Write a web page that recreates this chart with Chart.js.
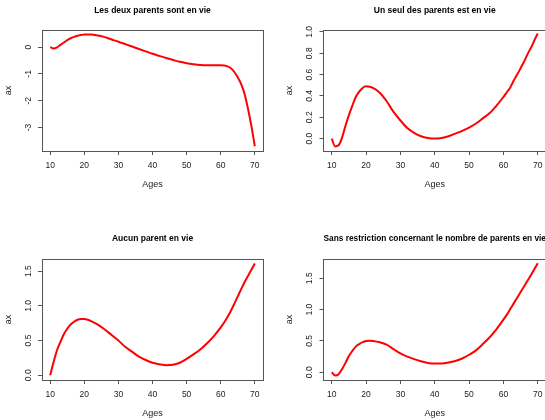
<!DOCTYPE html>
<html><head><meta charset="utf-8">
<script src="https://cdn.jsdelivr.net/npm/chart.js@4"></script>
<style>
html,body{margin:0;padding:0;background:#fff;overflow:hidden;width:545px;height:420px;position:relative;}
canvas{position:absolute;}
</style></head><body>
<canvas id="c1" width="272" height="210" style="left:0;top:0;width:272px;height:210px"></canvas>
<canvas id="c2" width="273" height="210" style="left:281px;top:0;width:273px;height:210px"></canvas>
<canvas id="c3" width="272" height="210" style="left:0;top:210px;width:272px;height:210px"></canvas>
<canvas id="c4" width="273" height="210" style="left:281px;top:210px;width:273px;height:210px"></canvas>
<script>
// ---- data ----
const ages = [10,11,12,13,14,15,16,17,18,19,20,21,22,24,26,28,30,32,34,36,38,40,42,44,46,48,50,52,54,56,58,60,61,62,63,64,65,66,67,68,69,70];
const axDeuxParents = [0.0,-0.05,-0.01,0.08,0.17,0.26,0.33,0.38,0.42,0.45,0.47,0.47,0.47,0.43,0.37,0.28,0.20,0.11,0.02,-0.07,-0.16,-0.25,-0.33,-0.41,-0.48,-0.55,-0.60,-0.64,-0.67,-0.68,-0.68,-0.68,-0.69,-0.72,-0.79,-0.93,-1.13,-1.38,-1.75,-2.3,-2.95,-3.7];
const axUnParent = [0.0,-0.073,-0.063,0.01,0.12,0.22,0.31,0.39,0.44,0.475,0.49,0.487,0.475,0.43,0.35,0.25,0.17,0.10,0.054,0.022,0.006,0.0,0.006,0.022,0.047,0.073,0.104,0.142,0.19,0.24,0.31,0.39,0.435,0.48,0.545,0.60,0.66,0.72,0.79,0.85,0.92,0.985];
const axAucunParent = [0.0,0.19,0.36,0.48,0.59,0.67,0.73,0.77,0.80,0.81,0.81,0.80,0.78,0.73,0.66,0.58,0.50,0.41,0.34,0.27,0.22,0.18,0.16,0.145,0.15,0.18,0.235,0.30,0.37,0.46,0.565,0.69,0.76,0.84,0.93,1.03,1.135,1.24,1.34,1.43,1.52,1.61];
const axSansRestriction = [0.0,-0.05,-0.03,0.05,0.15,0.26,0.34,0.41,0.45,0.48,0.50,0.505,0.50,0.48,0.44,0.37,0.30,0.25,0.21,0.175,0.15,0.14,0.14,0.155,0.18,0.22,0.28,0.35,0.45,0.56,0.69,0.84,0.92,1.01,1.10,1.19,1.28,1.37,1.46,1.55,1.645,1.74];

const ageTicks = [10,20,30,40,50,60,70];
const ageTickLabels = ['10','20','30','40','50','60','70'];
const yTicks1 = [-3,-2,-1,0];
const yLabels1 = ['-3','-2','-1','0'];
const yTicks2 = [0,0.2,0.4,0.6,0.8,1.0];
const yLabels2 = ['0.0','0.2','0.4','0.6','0.8','1.0'];
const yTicks3 = [0,0.5,1.0,1.5];
const yLabels3 = ['0.0','0.5','1.0','1.5'];
const yTicks4 = [0,0.5,1.0,1.5];
const yLabels4 = ['0.0','0.5','1.0','1.5'];
const titles = ['Les deux parents sont en vie','Un seul des parents est en vie','Aucun parent en vie','Sans restriction concernant le nombre de parents en vie'];
const xLabel = 'Ages';
const yLabel = 'ax';

// ---- drawing ----
const FONT = "'Liberation Sans', Arial, Helvetica, sans-serif";
const TICK_SIZE = 8.5, LAB_SIZE = 9, MAIN_SIZE = 8.5;
const measureCtx = document.createElement('canvas').getContext('2d');
function textWidth(t, size){ measureCtx.font = size + 'px ' + FONT; return measureCtx.measureText(t).width; }

const boxPlugin = {
  id: 'box',
  afterDatasetsDraw(chart){
    const {ctx, chartArea: a} = chart;
    ctx.save();
    ctx.strokeStyle = '#555';
    ctx.lineWidth = 1;
    const l = Math.floor(a.left) + 0.5, t = Math.floor(a.top) + 0.5;
    const r = Math.floor(a.right) + 0.5, b = Math.floor(a.bottom) + 0.5;
    ctx.strokeRect(l, t, r - l, b - t);
    ctx.restore();
  }
};

function panel(id, spec){
  const lhT = MAIN_SIZE * 1.2, lhL = LAB_SIZE * 1.2, lhK = TICK_SIZE * 1.2;
  const widest = Math.max(...spec.yLabels.map(t => textWidth(t, TICK_SIZE)));
  new Chart(document.getElementById(id), {
    type: 'line',
    data: { datasets: [{
      data: ages.map((a, i) => ({x: a, y: spec.values[i]})),
      borderColor: '#ff0000', borderWidth: 2, pointRadius: 0, fill: false,
      cubicInterpolationMode: 'monotone'
    }]},
    plugins: [boxPlugin],
    options: {
      responsive: false, animation: false, events: [],
      layout: { padding: { left: 0, right: spec.padRight, top: 0, bottom: 0 } },
      plugins: {
        legend: { display: false }, tooltip: { enabled: false },
        title: { display: true, text: spec.title, fullSize: false, align: 'center', color: '#000',
          font: { family: FONT, size: MAIN_SIZE, weight: 'bold' },
          padding: { top: spec.titleY - lhT / 2, bottom: spec.plotTop - spec.titleY - lhT / 2 } }
      },
      scales: {
        x: {
          type: 'linear', position: 'bottom', min: 7.6, max: 72.4,
          afterBuildTicks: s => { s.ticks = ageTicks.map(v => ({value: v})); },
          afterFit: s => { s.height = spec.xHeight; s.paddingLeft = 0; s.paddingRight = 0; },
          ticks: { autoSkip: false, minRotation: 0, maxRotation: 0, padding: 14.7 - 4 - lhK / 2,
            color: '#222', font: { family: FONT, size: TICK_SIZE }, callback: (v, i) => ageTickLabels[i] },
          grid: { drawOnChartArea: false, drawTicks: true, tickLength: 4, color: '#555' },
          border: { display: false },
          title: { display: true, text: xLabel, color: '#222', font: { family: FONT, size: LAB_SIZE },
            padding: { top: 0, bottom: spec.xHeight - 34 - lhL / 2 } }
        },
        y: {
          type: 'linear', position: 'left', min: spec.yMin, max: spec.yMax,
          afterBuildTicks: s => { s.ticks = spec.yTicks.map(v => ({value: v})); },
          afterFit: s => { s.width = spec.yWidth; s.paddingTop = 0; s.paddingBottom = 0; },
          ticks: { autoSkip: false, minRotation: 90, maxRotation: 90, crossAlign: 'center',
            padding: 13.5 - 4 - widest / 2,
            color: '#222', font: { family: FONT, size: TICK_SIZE }, callback: (v, i) => spec.yLabels[i] },
          grid: { drawOnChartArea: false, drawTicks: true, tickLength: 4, color: '#555' },
          border: { display: false },
          title: { display: true, text: yLabel, color: '#222', font: { family: FONT, size: LAB_SIZE },
            padding: { top: spec.yWidth - 33.5 - lhL / 2, bottom: 0 } }
        }
      }
    }
  });
}

panel('c1', { title: titles[0], values: axDeuxParents, yTicks: yTicks1, yLabels: yLabels1,
  yMin: -3.877, yMax: 0.637, padRight: 9, yWidth: 42, titleY: 11, plotTop: 30, xHeight: 59 });
panel('c2', { title: titles[1], values: axUnParent, yTicks: yTicks2, yLabels: yLabels2,
  yMin: -0.116, yMax: 1.018, padRight: 8, yWidth: 42.5, titleY: 11, plotTop: 30, xHeight: 59 });
panel('c3', { title: titles[2], values: axAucunParent, yTicks: yTicks3, yLabels: yLabels3,
  yMin: -0.068, yMax: 1.674, padRight: 9, yWidth: 42, titleY: 29, plotTop: 49, xHeight: 40 });
panel('c4', { title: titles[3], values: axSansRestriction, yTicks: yTicks4, yLabels: yLabels4,
  yMin: -0.123, yMax: 1.808, padRight: 8, yWidth: 42.5, titleY: 29, plotTop: 49, xHeight: 40 });
</script>
</body></html>
